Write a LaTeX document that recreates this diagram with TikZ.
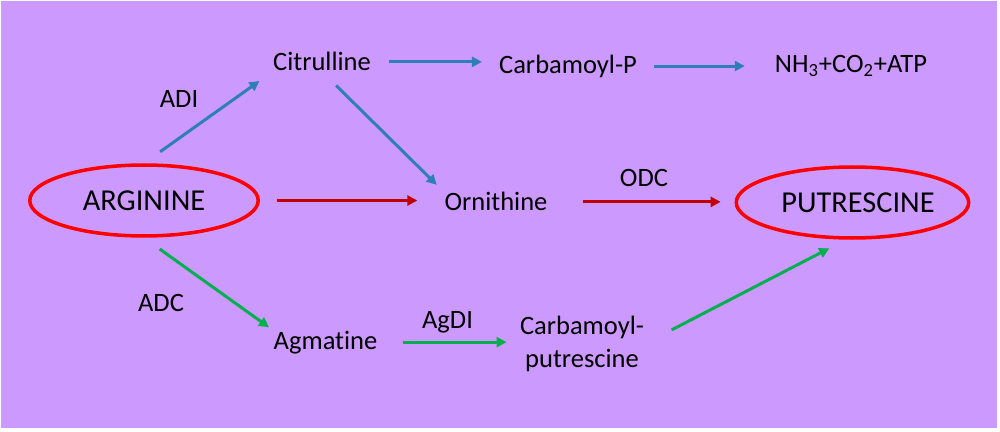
\documentclass[tikz,border=0pt]{standalone}
\usepackage{fontspec}
\setmainfont{Carlito}[Ligatures=NoCommon]
\usetikzlibrary{arrows.meta, shapes.geometric}
\definecolor{lilac}{HTML}{CC99FF}
\definecolor{adiblue}{HTML}{2E7EB8}
\definecolor{odcred}{HTML}{C00000}
\definecolor{adcgreen}{HTML}{00B050}

\begin{document}
\begin{tikzpicture}[x=0.02cm, y=-0.02cm,
	txt/.style = {inner sep=0pt, anchor=base, font=\fontsize{15.1}{18.3}\selectfont},
	mol/.style = {ellipse, draw=red, line width=2pt, minimum width=4.57cm, minimum height=1.42cm, inner sep=0pt, font=\fontsize{17.3}{21}\selectfont},
	rxn/.style = {line width=1.7pt, -{Triangle[length=5.7pt, width=5.7pt]}}]
	\useasboundingbox (0,0) rectangle (1000,432);
	\fill [lilac] (1,1) rectangle (997,428);
	
	\node [mol] (arg) at (144,200.5) {ARGININE\hspace{0.34cm}};
	\node [mol] (put) at (852.5,202.5) {\hspace{0.22cm}PUTRESCINE};
	
	\node [txt] (cit) at (322,71) {Citrulline};
	\node [txt] (carbp) at (568,74) {Carbamoyl-P};
	\node [txt] (nh3) at (851,72.7) {NH\textsubscript{3}+CO\textsubscript{2}+ATP};
	\node [txt] (orn) at (496,211) {Ornithine};
	\node [txt] (agm) at (325.5,349) {Agmatine};
	\node [txt, anchor=center, align=center] (cbput) at (582,344) {Carbamoyl-\\putrescine};
	
	\node [txt] (adi) at (179,108) {ADI};
	\node [txt] (odc) at (644,187) {ODC};
	\node [txt] (adc) at (161,311) {ADC};
	\node [txt] (agdi) at (447.5,328) {AgDI};
	
	\draw [rxn, adiblue, shorten <=11.3pt, shorten >=9.3pt] (arg.north) -- (cit.south west);
	\draw [rxn, adiblue, shorten <=10.2pt, shorten >=9.6pt] (cit.east) -- (cit.east -| carbp.west);
	\draw [rxn, adiblue, shorten <=9.6pt, shorten >=17pt] (carbp.east |- nh3.west) -- (nh3.west);
	\draw [rxn, adiblue, shorten <=11.3pt, shorten >=6pt] (cit.south) -- (orn.north west);
	
	\draw [rxn, odcred, shorten <=9.6pt, shorten >=15.3pt] (arg.east) -- (arg.east -| orn.west);
	\draw [rxn, odcred, shorten <=19.8pt, shorten >=7.9pt] (orn.east) -- (orn.east -| put.west);
	
	\draw [rxn, adcgreen, shorten <=11pt, shorten >=3pt] (arg.south) -- (agm.north west);
	\draw [rxn, adcgreen, shorten <=14.2pt, shorten >=7.4pt] (agm.east) -- (agm.east -| cbput.west);
	\draw [rxn, adcgreen, shorten <=17.5pt, shorten >=10.7pt] (cbput.east) -- (put.260);
\end{tikzpicture}
\end{document}
